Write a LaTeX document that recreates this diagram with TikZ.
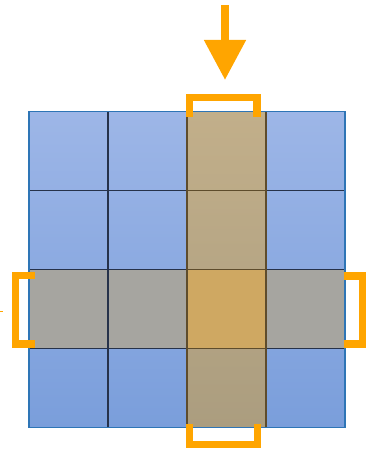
\documentclass[tikz,border=0pt]{standalone}
\usepackage{xcolor}
\usepackage{tikz}
\usetikzlibrary{arrows.meta,positioning}
\definecolor{celltop}{HTML}{9DB6E7}
\definecolor{cellbot}{HTML}{7A9EDB}
\definecolor{coltop}{HTML}{C2AF8A}
\definecolor{colbot}{HTML}{AB9D7F}
\definecolor{rowgray}{HTML}{A6A5A0}
\definecolor{hitcell}{HTML}{CFA862}
\definecolor{gridline}{HTML}{26324A}
\definecolor{colline}{HTML}{5E4C2C}
\definecolor{frameblue}{HTML}{2E75B6}
\definecolor{marker}{HTML}{FFA500}
\tikzset{
  cell/.style={draw=gridline, line width=1.2pt, minimum width=79pt, minimum height=79pt, inner sep=0pt, outer sep=0pt},
  colcell/.style={cell, draw=colline},
  rowcell/.style={cell, fill=rowgray},
  hit/.style={cell, draw=colline, fill=hitcell},
  frame/.style={draw=frameblue, line width=1.3pt},
  bracket/.style={draw=marker, line width=7.5pt, line join=miter},
  pointer/.style={draw=marker, line width=8pt, -{Triangle[length=40pt, width=40pt]}}
}

\begin{document}
\begin{tikzpicture}[x=1pt, y=1pt]
  \useasboundingbox (0,0) rectangle (381,449);

  % base grid
  \foreach \r in {0,...,3} {
    \foreach \c in {0,...,3} {
      \pgfmathtruncatemacro{\ta}{100-25*\r}
      \pgfmathtruncatemacro{\tb}{75-25*\r}
      \node[cell, top color=celltop!\ta!cellbot, bottom color=celltop!\tb!cellbot] (c-\r-\c) at (68.5+79*\c, 297.8-79*\r) {};
    }
  }
  % selected row and column
  \foreach \c in {0,1,3}
    \node[rowcell] (r-\c) at (c-2-\c) {};
  \foreach \r in {0,1,3} {
    \pgfmathtruncatemacro{\ta}{100-25*\r}
    \pgfmathtruncatemacro{\tb}{75-25*\r}
    \node[colcell, top color=coltop!\ta!colbot, bottom color=coltop!\tb!colbot] (k-\r) at (c-\r-2) {};
  }
  \node[hit] (center) at (c-2-2) {};
  \draw[frame] (c-0-0.north west) rectangle (c-3-3.south east);

  % brackets
  \draw[bracket] (189.5,332.3) -- (189.5,351.5) -- (257,351.5) -- (257,332.3);
  \draw[bracket] (189.5,25) -- (189.5,4.5) -- (257.5,4.5) -- (257.5,25);
  \draw[bracket] (35.3,173.5) -- (15.5,173.5) -- (15.5,105.2) -- (35.3,105.2);
  \draw[bracket] (343.7,172.8) -- (362.5,172.8) -- (362.5,105.2) -- (343.7,105.2);

  % arrows
  \coordinate (start) at (225,444);
  \coordinate (stop) at (225,369);
  \draw[pointer] (start) -- (stop);
  \coordinate (lstart) at (-4,137.3);
  \coordinate (lstop) at (3,137.3);
  \draw[draw=marker, line width=1.5pt] (lstart) -- (lstop);
\end{tikzpicture}
\end{document}
